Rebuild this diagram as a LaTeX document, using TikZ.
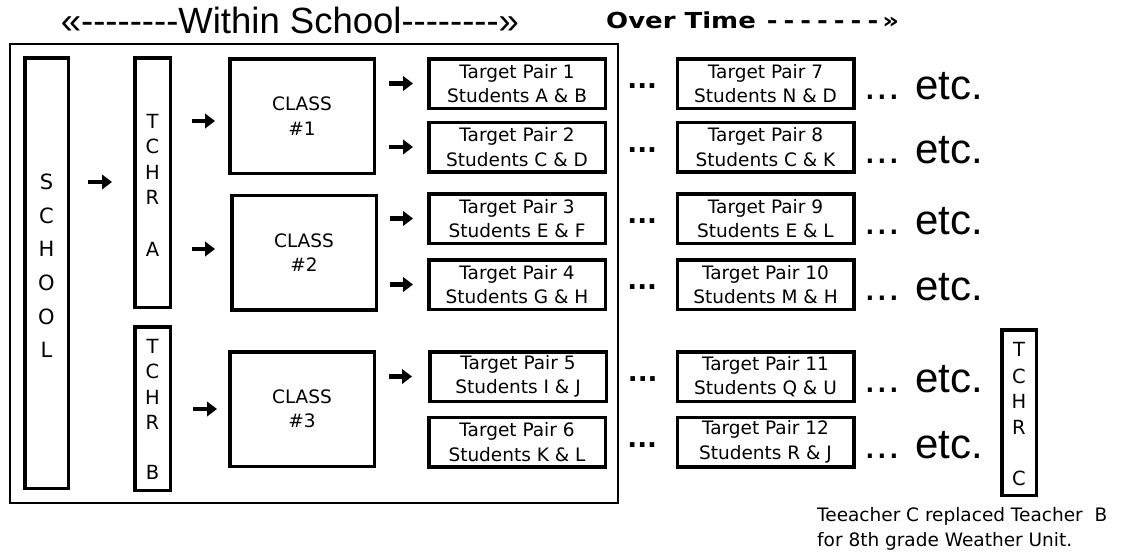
\documentclass[tikz,border=0pt]{standalone}
\usepackage{fontspec}
\usetikzlibrary{arrows.meta,calc}
\newfontfamily\genv{DejaVu Sans}[Ligatures=TeXOff]
\newfontfamily\helv{Liberation Sans}[Ligatures=TeXOff]
\newfontfamily\chic{DejaVu Sans}[Ligatures=TeXOff,FakeStretch=1.18]

\tikzset{
  box/.style={draw, line width=3.5pt, inner sep=0pt, align=center,
    font=\genv\fontsize{18.5}{24.5}\selectfont},
  pairbox/.style={box, minimum width=176.5pt, minimum height=49.5pt},
  classbox/.style={box, minimum width=144.5pt, minimum height=114.5pt},
  tallbox/.style={draw, line width=3.5pt, inner sep=0pt},
  letter/.style={inner sep=0pt, font=\genv\fontsize{19.5}{20}\selectfont},
  bigletter/.style={inner sep=0pt, font=\genv\fontsize{21}{22}\selectfont},
  arr/.style={line width=4.5pt, -{Triangle[length=10pt,width=14.5pt]}},
  dotrow/.style={inner sep=0pt, font=\genv\bfseries\fontsize{26}{26}\selectfont},
  etcnote/.style={inner sep=0pt, anchor=base west, font=\helv\fontsize{42}{42}\selectfont},
}

\begin{document}
\begin{tikzpicture}[x=1pt,y=-1pt]
\useasboundingbox (0,0) rectangle (1122,554);

% headings
\node[inner sep=0pt, font=\helv\fontsize{36.5}{36.5}\selectfont] (title) at (290,20)
  {«--------Within School--------»};
\node[anchor=west, inner sep=0pt, font=\chic\bfseries\fontsize{22}{22}\selectfont] (overtime) at (606,20)
  {Over Time\hspace{11pt}-\kern6pt-\kern6pt-\kern6pt-\kern6pt-\kern6pt-\kern6pt-\kern4pt»};

% frame around the within-school part
\node[draw, line width=1.8pt, minimum width=608pt, minimum height=459pt, inner sep=0pt] (within) at (314,273.5) {};

% school column
\node[tallbox, minimum width=43.5pt, minimum height=430.5pt] (school) at (46.5,273) {};
\foreach \ch [count=\i] in {S,C,H,O,O,L}
  \node[bigletter] (s\i) at (46.5,{182+33.6*(\i-1)}) {\ch};

% teachers
\node[tallbox, minimum width=35.5pt, minimum height=249.5pt] (tchrA) at (152.5,182.5) {};
\foreach \ch/\yy [count=\i] in {T/121,C/146.5,H/172,R/197.5,A/249}
  \node[letter] (ta\i) at (152.5,\yy) {\ch};

\node[tallbox, minimum width=35.5pt, minimum height=163.5pt] (tchrB) at (152.5,408.5) {};
\foreach \ch/\yy [count=\i] in {T/346,C/371.5,H/397,R/422,B/472}
  \node[letter] (tb\i) at (152.5,\yy) {\ch};

\node[tallbox, minimum width=34.5pt, minimum height=165.5pt] (tchrC) at (1019,412.5) {};
\foreach \ch/\yy [count=\i] in {T/349,C/376,H/401,R/427,C/478}
  \node[letter] (tc\i) at (1019,\yy) {\ch};

% classes
\node[classbox] (c1) at (302,116) {CLASS\\\#1};
\node[classbox] (c2) at (304,252.5) {CLASS\\\#2};
\node[classbox] (c3) at (302,409) {CLASS\\\#3};

% target pairs, first round
\node[pairbox] (p1) at (517,83.5)  {Target Pair 1\\Students A \& B};
\node[pairbox] (p2) at (517,147)   {Target Pair 2\\Students C \& D};
\node[pairbox] (p3) at (517,218.5) {Target Pair 3\\Students E \& F};
\node[pairbox] (p4) at (517,284.5) {Target Pair 4\\Students G \& H};
\node[pairbox] (p5) at (518,376.5) {Target Pair 5\\Students I \& J};
\node[pairbox] (p6) at (517,442)   {Target Pair 6\\Students K \& L};

% target pairs, later round
\node[pairbox] (q1) at (765.5,83.5)  {Target Pair 7\\Students N \& D};
\node[pairbox] (q2) at (765.5,147)   {Target Pair 8\\Students C \& K};
\node[pairbox] (q3) at (765.5,218.5) {Target Pair 9\\Students E \& L};
\node[pairbox] (q4) at (765.5,284.5) {Target Pair 10\\Students M \& H};
\node[pairbox] (q5) at (765.5,376.5) {Target Pair 11\\Students Q \& U};
\node[pairbox] (q6) at (765.5,442)   {Target Pair 12\\Students R \& J};

% continuation marks
\foreach \i in {1,...,6} {
  \node[dotrow] (d\i) at ($(p\i.east)!0.5!(q\i.west)+(1,3)$) {...};
  \node[etcnote] (e\i) at ($(q\i.east)+(9,16)$) {... etc.};
}

% arrows
\draw[arr] ($(school.east |- s1)+(18,0)$) -- ($(tchrA.west |- s1)+(-21,0)$);
\draw[arr] ($(tchrA.east |- ta1)+(20,0)$) -- ($(c1.west |- ta1)+(-13,0)$);
\draw[arr] ($(tchrA.east |- ta5)+(20,0)$) -- ($(c2.west |- ta5)+(-15,0)$);
\draw[arr] ($(tchrB.east |- c3)+(21,0)$) -- ($(c3.west)+(-11,0)$);
\draw[arr] ($(c1.east |- p1)+(13,0)$) -- ($(p1.west)+(-14,0)$);
\draw[arr] ($(c1.east |- p2)+(13,0)$) -- ($(p2.west)+(-14,0)$);
\draw[arr] ($(c2.east |- p3)+(12,0)$) -- ($(p3.west)+(-14,0)$);
\draw[arr] ($(c2.east |- p4)+(12,0)$) -- ($(p4.west)+(-14,0)$);
\draw[arr] ($(c3.east |- p5)+(13,0)$) -- ($(p5.west)+(-16,0)$);

% note under the third teacher
\node[anchor=north west, inner sep=0pt, align=left, font=\genv\fontsize{18.5}{25}\selectfont] (note) at (817,507.5)
  {Teeacher C replaced Teacher\ \ B\\for 8th grade Weather Unit.};
\end{tikzpicture}
\end{document}
